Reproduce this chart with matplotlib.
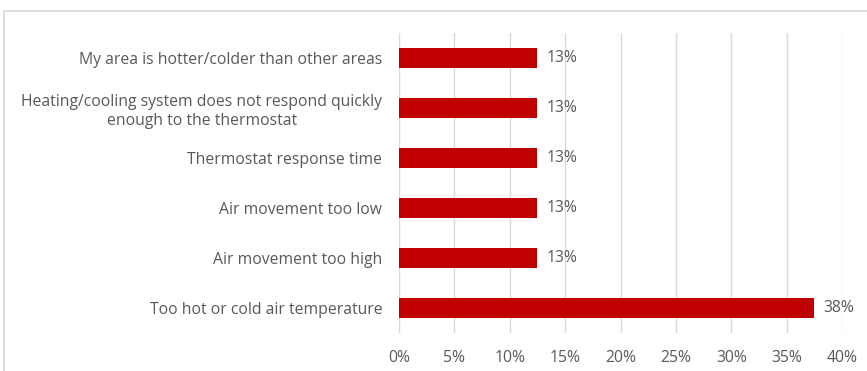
import math

import matplotlib.pyplot as plt
from matplotlib.patches import Rectangle
from matplotlib.ticker import FuncFormatter

# survey categories, listed top to bottom
categories = [
    "My area is hotter/colder than other areas",
    "Heating/cooling system does not respond quickly\nenough to the thermostat",
    "Thermostat response time",
    "Air movement too low",
    "Air movement too high",
    "Too hot or cold air temperature",
]
shares = [12.5, 12.5, 12.5, 12.5, 12.5, 37.5]
x_ticks = [0, 5, 10, 15, 20, 25, 30, 35, 40]

BAR_COLOR = "#C00000"
TEXT_COLOR = "#595959"
GRID_COLOR = "#D9D9D9"
FS = 11.3

plt.rcParams["font.family"] = ["Open Sans", "DejaVu Sans"]

W, H = 867, 371
fig = plt.figure(figsize=(W / 100, H / 100), dpi=100)

# chart-area border (runs off the right and bottom edges)
fig.patches.append(Rectangle((4 / W, -0.05), 1.0, 1 - 11 / H + 0.05,
                             transform=fig.transFigure, fill=False,
                             edgecolor=GRID_COLOR, linewidth=1.2))

ax = fig.add_axes([399 / W, 1 - 333 / H, (842 - 399) / W, 300 / H])

ypos = list(range(len(categories)))[::-1]
ax.barh(ypos, shares, height=0.39, color=BAR_COLOR, zorder=3)

for y, v in zip(ypos, shares):
    label = f"{math.floor(v + 0.5)}%"
    ax.text(v + 0.8, y, label, va="center", ha="left",
            fontsize=FS, color=TEXT_COLOR)

ax.set_xlim(0, 40)
ax.set_ylim(-0.5, len(categories) - 0.5)
ax.set_xticks(x_ticks)
ax.xaxis.set_major_formatter(FuncFormatter(lambda v, _: f"{v:.0f}%"))
ax.set_yticks(ypos)
ax.set_yticklabels(categories, multialignment="center", linespacing=1.25)
ax.tick_params(axis="both", length=0, labelsize=FS, colors=TEXT_COLOR)
ax.tick_params(axis="x", pad=12)
ax.tick_params(axis="y", pad=12)

ax.grid(axis="x", color=GRID_COLOR, linewidth=1, zorder=0)
for side in ax.spines.values():
    side.set_visible(False)

fig.savefig("out.png", dpi=100)
